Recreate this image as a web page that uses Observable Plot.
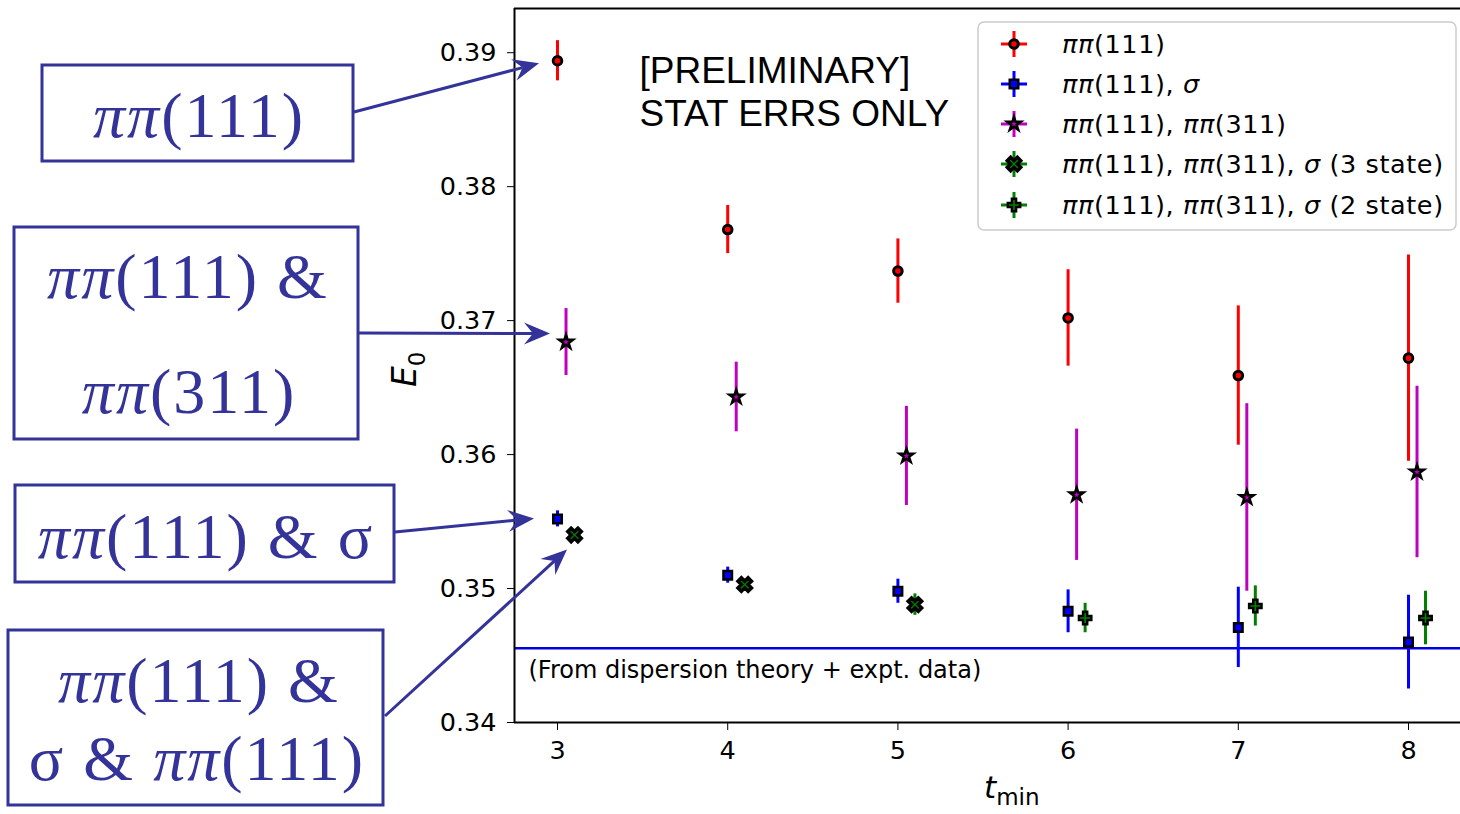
<!DOCTYPE html>
<html><head><meta charset="utf-8">
<script src="https://cdn.jsdelivr.net/npm/d3@7"></script>
<script src="https://cdn.jsdelivr.net/npm/@observablehq/plot@0.6"></script>
<style>
html,body{margin:0;padding:0;background:#fff;}
#chart{width:1460px;height:814px;overflow:hidden;}
</style></head><body><div id="chart"></div>
<script>
// ---- data ----
const tmin = [3, 4, 5, 6, 7, 8];
const pp111 = [0.3894, 0.3768, 0.3737, 0.3702, 0.3659, 0.3672];
const pp111Err = [0.0015, 0.0018, 0.0024, 0.0036, 0.0052, 0.0077];
const pp111Sigma = [0.3552, 0.3510, 0.3498, 0.3483, 0.3471, 0.3460];
const pp111SigmaErr = [0.0006, 0.0006, 0.0009, 0.0016, 0.0030, 0.0035];
const pp111pp311 = [0.3684, 0.3643, 0.3599, 0.3570, 0.3568, 0.3587];
const pp111pp311Err = [0.0025, 0.0026, 0.0037, 0.0049, 0.0070, 0.0064];
const tmin3state = [3, 4, 5];
const threeState = [0.3540, 0.3503, 0.3488];
const threeStateErr = [0.0004, 0.0004, 0.0008];
const tmin2state = [6, 7, 8];
const twoState = [0.3478, 0.3487, 0.3478];
const twoStateErr = [0.0011, 0.0015, 0.0020];
const dispersionValue = 0.34555;
const yTicks = [0.34, 0.35, 0.36, 0.37, 0.38, 0.39];
const legendLabels = ["ππ(111)", "ππ(111), σ", "ππ(111), ππ(311)", "ππ(111), ππ(311), σ (3 state)", "ππ(111), ππ(311), σ (2 state)"];
const noteText = ["[PRELIMINARY]", "STAT ERRS ONLY"];
const dispersionLabel = "(From dispersion theory + expt. data)";
const xDomain = [2.7473, 8.3055];
const yDomain = [0.34, 0.3933];

// custom filled "X" symbol (matplotlib 'X')
const symbolX = {
  draw(context, size) {
    const r = Math.sqrt(size / 5) / 2;
    const pts = [[-3*r,-r],[-r,-r],[-r,-3*r],[r,-3*r],[r,-r],[3*r,-r],[3*r,r],[r,r],[r,3*r],[-r,3*r],[-r,r],[-3*r,r]];
    const c = Math.SQRT1_2;
    pts.forEach(([x, y], i) => { const X = (x - y) * c, Y = (x + y) * c; i ? context.lineTo(X, Y) : context.moveTo(X, Y); });
    context.closePath();
  }
};

const series = [
  {t: tmin, v: pp111, e: pp111Err, off: 0, color: "#ff0000", symbol: "circle", d3sym: d3.symbolCircle, r: 4.3, sw: 3},
  {t: tmin, v: pp111Sigma, e: pp111SigmaErr, off: 0, color: "#0000ff", symbol: "square", d3sym: d3.symbolSquare, r: 4.8, sw: 2.5},
  {t: tmin, v: pp111pp311, e: pp111pp311Err, off: 0.05, color: "#bf00bf", symbol: "star", d3sym: d3.symbolStar, r: 4.3, sw: 2.5},
  {t: tmin3state, v: threeState, e: threeStateErr, off: 0.1, color: "#008000", symbol: symbolX, d3sym: symbolX, r: 6, sw: 3.5},
  {t: tmin2state, v: twoState, e: twoStateErr, off: 0.1, color: "#008000", symbol: "cross", d3sym: d3.symbolCross, r: 5.2, sw: 2.5}
];
series.forEach((s, k) => {
  s.rows = s.t.map((t, i) => ({x: t + s.off, y: s.v[i], lo: s.v[i] - s.e[i], hi: s.v[i] + s.e[i]}));
  s.label = legendLabels[k];
});

const marks = [
  Plot.ruleY([dispersionValue], {stroke: "#0000dd", strokeWidth: 2.5}),
  Plot.text([dispersionLabel], {text: d => d, y: () => dispersionValue, frameAnchor: "left", textAnchor: "start", dx: 14, dy: 22, fontSize: 24, fontFamily: "DejaVu Sans", fill: "black"}),
  Plot.text([noteText.join("\n")], {text: d => d, frameAnchor: "top-left", textAnchor: "start", lineAnchor: "top", lineHeight: 1.16, dx: 125, dy: 44, fontSize: 37, fontFamily: "Liberation Sans", fill: "black"})
];
series.forEach(s => {
  marks.push(Plot.ruleX(s.rows, {x: "x", y1: "lo", y2: "hi", stroke: s.color, strokeWidth: 3}));
  marks.push(Plot.dot(s.rows, {x: "x", y: "y", symbol: s.symbol, r: s.r, fill: s.color, stroke: "black", strokeWidth: s.sw}));
});
marks.push(
  Plot.ruleX([xDomain[0]], {stroke: "black", strokeWidth: 2}),
  Plot.ruleY([yDomain[0], yDomain[1]], {stroke: "black", strokeWidth: 2}),
  Plot.axisY({ticks: yTicks, tickFormat: d => d.toFixed(2), tickSize: 7, tickPadding: 11, label: null, fontSize: 25.5}),
  Plot.axisX({ticks: tmin, tickFormat: d => String(d), tickSize: 8, tickPadding: 10, label: null, fontSize: 25.5})
);

const plot = Plot.plot({
  width: 1460, height: 814,
  marginLeft: 514, marginRight: 0, marginTop: 8, marginBottom: 92,
  x: {domain: xDomain},
  y: {domain: yDomain},
  style: {fontFamily: "DejaVu Sans", fontSize: "24px", background: "white", color: "black"},
  marks
});
document.getElementById("chart").appendChild(plot);

const sx = plot.scale("x"), sy = plot.scale("y");
const svg = d3.select(plot);
const navy = "#333399";

// axis labels
const ylab = svg.append("text").attr("transform", "translate(416,387) rotate(-90)").attr("text-anchor", "start").attr("fill", "black").attr("font-family", "DejaVu Sans");
ylab.append("tspan").attr("font-style", "italic").attr("font-size", 33).text("E");
ylab.append("tspan").attr("font-size", 23).attr("dy", 9).text("0");
const xlab = svg.append("text").attr("x", 984).attr("y", 798).attr("text-anchor", "start").attr("fill", "black").attr("font-family", "DejaVu Sans");
xlab.append("tspan").attr("font-style", "italic").attr("font-size", 31).text("t");
xlab.append("tspan").attr("font-size", 23).attr("dy", 7).text("min");

// legend
const lg = svg.append("g");
lg.append("rect").attr("x", 978).attr("y", 22).attr("width", 478).attr("height", 208).attr("rx", 6)
  .attr("fill", "white").attr("fill-opacity", 0.8).attr("stroke", "#cccccc").attr("stroke-width", 1.5);
function richText(sel, str, italicChars) {
  for (const ch of str) {
    sel.append("tspan").attr("font-style", italicChars.includes(ch) ? "italic" : "normal").text(ch);
  }
}
const rowY = [44, 84, 124, 164, 205];
series.forEach((s, k) => {
  const y = rowY[k], x = 1014;
  lg.append("line").attr("x1", x - 13).attr("x2", x + 13).attr("y1", y).attr("y2", y).attr("stroke", s.color).attr("stroke-width", 3);
  lg.append("line").attr("x1", x).attr("x2", x).attr("y1", y - 13).attr("y2", y + 13).attr("stroke", s.color).attr("stroke-width", 3);
  lg.append("path").attr("transform", `translate(${x},${y})`).attr("d", d3.symbol(s.d3sym, Math.PI * s.r * s.r)())
    .attr("fill", s.color).attr("stroke", "black").attr("stroke-width", s.sw);
  const t = lg.append("text").attr("x", 1062).attr("y", y + 9).attr("text-anchor", "start").attr("font-family", "DejaVu Sans").attr("font-size", 25.5).attr("letter-spacing", 0.6).attr("fill", "black");
  richText(t, s.label, "πσ");
});

// annotation boxes
const ann = svg.append("g");
function box(x, y, w, h) {
  ann.append("rect").attr("x", x).attr("y", y).attr("width", w).attr("height", h).attr("fill", "none").attr("stroke", navy).attr("stroke-width", 3);
}
function boxText(cx, y, str, italicChars) {
  const t = ann.append("text").attr("x", cx).attr("y", y).attr("text-anchor", "middle").attr("font-family", "Liberation Serif").attr("font-size", 64).attr("letter-spacing", 2).attr("fill", navy);
  richText(t, str, italicChars);
}
function arrow(x1, y1, x2, y2) {
  const a = Math.atan2(y2 - y1, x2 - x1), c = Math.cos(a), s = Math.sin(a);
  const L = 26, W = 11, N = 17;
  ann.append("line").attr("x1", x1).attr("y1", y1).attr("x2", x2 - N * c).attr("y2", y2 - N * s).attr("stroke", navy).attr("stroke-width", 3);
  const p = [[x2, y2], [x2 - L * c - W * s, y2 - L * s + W * c], [x2 - N * c, y2 - N * s], [x2 - L * c + W * s, y2 - L * s - W * c]];
  ann.append("path").attr("d", "M" + p.map(q => q.join(",")).join("L") + "Z").attr("fill", navy);
}
box(42, 65, 311, 96);
boxText(199, 137, "ππ(111)", "π");
box(14, 227, 344, 212);
boxText(188, 298, "ππ(111) &", "π");
boxText(189, 413, "ππ(311)", "π");
box(15, 485, 379, 97);
boxText(206, 558, "ππ(111) & σ", "π");
box(8, 630, 375, 175);
boxText(199, 702, "ππ(111) &", "π");
boxText(197, 780, "σ & ππ(111)", "π");

arrow(354, 112, sx.apply(tmin[0]) - 18, sy.apply(pp111[0]) + 3);
arrow(359, 333, sx.apply(tmin[0]) - 7, sy.apply(pp111pp311[0]) - 8);
arrow(395, 532, sx.apply(tmin[0]) - 23, sy.apply(pp111Sigma[0]));
arrow(385, 716, sx.apply(tmin3state[0] + 0.1) - 7, sy.apply(threeState[0]) + 15);
</script></body></html>
